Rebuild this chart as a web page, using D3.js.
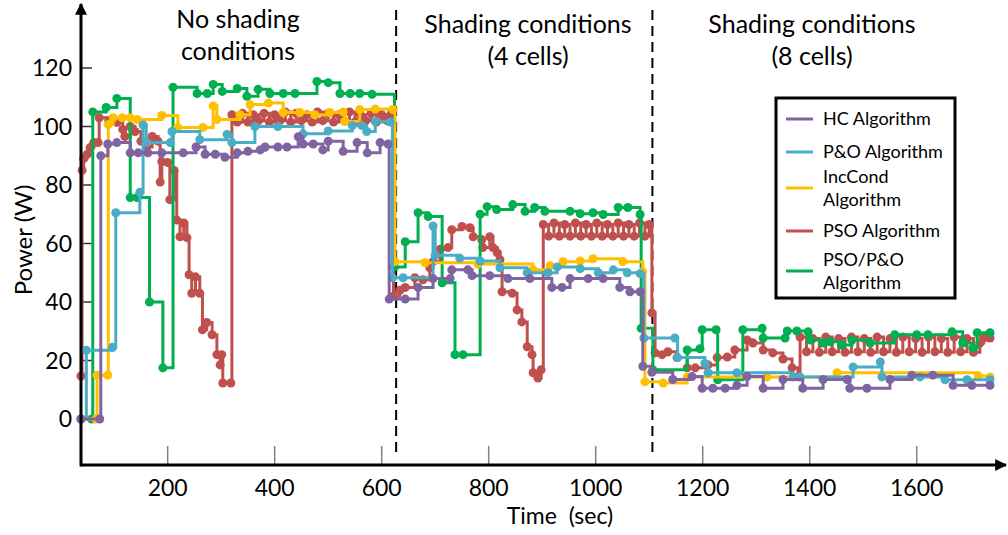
<!DOCTYPE html>
<html>
<head>
<meta charset="utf-8">
<script src="https://cdn.jsdelivr.net/npm/d3@7"></script>
<style>
  body { margin: 0; background: #fff; }
  text { font-family: Lato, "Open Sans", sans-serif; fill: #000; }
</style>
</head>
<body>
<div id="chart"></div>
<script>
// series data: [time (sec), power (W)]
var hcData = [[38,0],[73,0],[75,90],[88,94],[105,94.5],[130,91],[145,91],[163,91],[189,91],[229,91],[253,93],[270,90.5],[289,90.5],[307,89.5],[330,91],[350,91.5],[373,92],[382,93],[406,93],[423,93],[444,96.5],[453,94],[472,94],[490,92],[500,95],[528,91.5],[554,94.5],[573,91],[597,94.5],[612,94],
  [614,41],[644,41],[668,45],[696,48],[728,48],[731,51],[761,51],[769,49],[802,49],[836,48],[877,48],[918,45],[937,45],[952,48],[986,48],[1014,48],[1045,45],[1064,43.5],[1083,43.5],
  [1088,18],[1105,16],[1144,13.5],[1180,14.5],[1199,10.5],[1219,10.5],[1242,10.5],[1264,11.5],[1283,14.5],[1313,10.5],[1350,13.5],[1387,10.5],[1425,13.5],[1470,13.5],[1475,10.5],[1507,10.5],[1550,13.5],[1591,15],[1630,15],[1668,11.5],[1703,11.5],[1737,11.5]];

var poData = [[38,0],[48,23.5],[97,24.5],[103,70.5],[148,77.5],[154,100.5],[160,94.5],[205,94.5],[208,98.3],[260,95.5],[311,97.3],[320,94.5],[363,100],[406,100],[453,97.5],[500,98.5],[545,100.3],[563,100.3],[572,98.3],[588,101.7],[616,101.5],
  [620,48.3],[640,48.3],[696,66],[700,56],[746,55],[784,54],[821,51.7],[872,50],[911,50],[928,52],[971,51.4],[1005,50],[1033,51],[1059,50],[1083,49.7],
  [1090,27.7],[1148,27.7],[1153,21],[1204,19],[1210,15.8],[1264,15.8],[1369,14.4],[1382,14.4],[1481,17.8],[1532,19.5],[1535,14.4],[1606,14.4],[1653,13.4],[1694,13.4],[1737,13.4]];

var incData = [[38,0],[66,0],[68,15],[88,15],[89,100.7],[98,103],[115,103],[130,103],[143,102.4],[189,103.8],[219,99.7],[266,99.7],[285,107],[292,102.4],[335,104],[354,107.5],[388,108],[416,104.8],[447,104.8],[475,104],[503,104.8],[528,105],[531,101.7],[559,105.8],[588,106],[621,105.8],
  [625,53.8],[681,53.4],[780,53],[883,51],[915,52.4],[939,53.8],[971,54],[995,54.8],[1051,53.8],[1088,50.3],
  [1092,12.7],[1126,12.3],[1171,14.4],[1320,14.4],[1451,15.8],[1715,14.7],[1737,14.4]];

var psoData = [[38,14.7],[40,85],[43,89],[49,90.4],[55,92.8],[62,94.5],[70,94.5],[72,103],[90,102],[105,101.4],[116,99],[120,96.6],[130,100],[139,98.3],[150,95],[161,93],[171,96.6],[182,95],[186,81],[189,88],[200,87.7],[204,75],[212,85],[217,68],[223,62.3],[230,67],[236,62],[240,49.3],[245,43],[252,48.6],[260,43],[265,30.5],[273,33],[283,28.8],[292,22],[298,18.5],[301,22],[303,12.3],[318,12.3],
  [320,104],[330,101.5],[340,104.5],[350,101.5],[360,104],[370,102],[380,104.5],[390,101.5],[400,104],[410,102],[420,105],[430,101.5],[440,104.5],[450,102],[460,104],[470,101.5],[480,105],[490,102],[500,104.5],[510,101.5],[520,104],[530,102],[540,105],[550,101.5],[560,104],[570,102],[580,104.5],[590,101.5],[600,104],[610,102],[618,104.5],
  [622,42],[634,44],[644,45],[662,48.3],[677,47.6],[690,51.7],[696,53.8],[709,58],[724,58.6],[731,64.7],[750,65.8],[765,65.4],[771,62.3],[787,61.3],[789,58.6],[802,62.3],[808,58.6],[816,56.8],[821,54.5],[825,43.5],[844,43],[853,37.3],[862,33.2],[872,24.7],[881,22],[883,15.8],[892,14],[898,16.8],
  [902,66.5],[912,62.5],[922,67],[932,62.5],[942,66.5],[952,62.5],[962,67],[972,62.5],[982,66.5],[992,62.5],[1002,67],[1012,62.5],[1022,66.5],[1032,62.5],[1042,67],[1052,62.5],[1062,66.5],[1072,62.5],[1082,67],[1092,62.5],[1100,66.5],
  [1105,36.3],[1111,22.6],[1124,22],[1135,23],[1152,21],[1171,17.5],[1186,17.5],[1210,18.5],[1227,21],[1246,21.2],[1260,23.6],[1283,27],[1294,26],[1313,23.6],[1331,22.6],[1350,20.5],[1367,17.5],[1378,14.4],
  [1382,28],[1394,23],[1406,27.5],[1418,22.8],[1430,28],[1442,23],[1454,27.5],[1466,22.8],[1478,28],[1490,23],[1502,27.5],[1514,22.8],[1526,28],[1538,23],[1550,27.5],[1562,22.8],[1574,28],[1586,23],[1598,27.5],[1610,22.8],[1622,28],[1634,23],[1646,27.5],[1658,22.8],[1670,28],[1682,23],[1694,27.5],[1706,22.8],[1718,26],[1725,27.7],[1737,27.7]];

var hybridData = [[38,0],[58,0],[60,105],[85,106.5],[105,109.6],[130,75.7],[143,75.7],[166,40],[191,17.5],[210,113.4],[255,111.3],[274,111.3],[285,114.4],[302,112],[330,113],[348,110.3],[369,112.7],[391,111.3],[416,111.3],[438,111.3],[479,115.4],[500,115],[522,111.3],[541,111.3],[559,111.3],[582,111],
  [624,52],[644,60.6],[668,70.5],[687,69.2],[713,46.6],[737,22],[752,22],[784,70],[797,72.6],[815,71.6],[845,73.3],[868,71],[886,72.3],[905,71],[952,71],[971,70.2],[995,70.5],[1014,69.9],[1042,72.3],[1060,72.3],[1083,69.9],
  [1085,31],[1107,16.8],[1171,23.6],[1195,24],[1199,30.5],[1225,30.5],[1228,13.4],[1275,30.5],[1311,31],[1313,27.7],[1354,27.7],[1358,30.1],[1376,30.1],[1397,29.8],[1401,27],[1425,26],[1438,26.4],[1460,25.3],[1479,27],[1513,26],[1559,28.8],[1600,28.8],[1621,28.8],[1666,29.8],[1686,26],[1705,24.3],[1713,29.5],[1737,29.5]];

var seriesNames = ["HC Algorithm", "P&O Algorithm", "IncCond Algorithm", "PSO Algorithm", "PSO/P&O Algorithm"];
var seriesColors = ["#8064A2", "#4BACC6", "#FFC000", "#C0504D", "#00B050"];
var xTicks = [200, 400, 600, 800, 1000, 1200, 1400, 1600];
var yTicks = [0, 20, 40, 60, 80, 100, 120];
var boundaries = [627, 1106];
var regionLabels = [["No shading", "conditions"], ["Shading conditions", "(4 cells)"], ["Shading conditions", "(8 cells)"]];
var regionCenters = [238, 528, 812];

var W = 1008, H = 535;
var svg = d3.select("#chart").append("svg").attr("width", W).attr("height", H);

var x = d3.scaleLinear().domain([38, 1765]).range([81, 1005]);
var y = d3.scaleLinear().domain([0, 120]).range([419, 68]);
var axisY = 465;

var allData = [hcData, poData, incData, psoData, hybridData];
var series = seriesNames.map(function(n, i) { return { name: n, color: seriesColors[i], values: allData[i] }; });

// tick marks (grey on x, dark on y)
svg.append("g").selectAll("line").data(xTicks).enter().append("line")
  .attr("x1", function(d) { return x(d); }).attr("x2", function(d) { return x(d); })
  .attr("y1", axisY - 19).attr("y2", axisY)
  .attr("stroke", "#808080").attr("stroke-width", 1.5);
svg.append("g").selectAll("line").data(yTicks).enter().append("line")
  .attr("x1", 81).attr("x2", 92)
  .attr("y1", function(d) { return y(d); }).attr("y2", function(d) { return y(d); })
  .attr("stroke", "#333").attr("stroke-width", 1.5);

// tick labels
svg.append("g").selectAll("text").data(xTicks).enter().append("text")
  .attr("x", function(d) { return x(d); }).attr("y", 496)
  .attr("text-anchor", "middle").style("font-size", "23px")
  .text(function(d) { return d; });
svg.append("g").selectAll("text").data(yTicks).enter().append("text")
  .attr("x", 72).attr("y", function(d) { return y(d) + 8; })
  .attr("text-anchor", "end").style("font-size", "23px")
  .text(function(d) { return d; });

// region boundaries
svg.append("g").selectAll("line").data(boundaries).enter().append("line")
  .attr("x1", function(d) { return x(d); }).attr("x2", function(d) { return x(d); })
  .attr("y1", 10).attr("y2", 458)
  .attr("stroke", "#000").attr("stroke-width", 2).attr("stroke-dasharray", "10,6");

// lines
var line = d3.line().curve(d3.curveStepAfter)
  .x(function(d) { return x(d[0]); })
  .y(function(d) { return y(d[1]); });

var drawOrder = [3, 4, 2, 1, 0];
drawOrder.forEach(function(i) {
  var s = series[i];
  var g = svg.append("g");
  g.append("path").attr("d", line(s.values))
    .attr("fill", "none").attr("stroke", s.color).attr("stroke-width", 3);
  g.selectAll("circle").data(s.values).enter().append("circle")
    .attr("cx", function(d) { return x(d[0]); })
    .attr("cy", function(d) { return y(d[1]); })
    .attr("r", 4.5).attr("fill", s.color);
});

// axes with arrows
svg.append("defs").append("marker").attr("id", "arrow")
  .attr("viewBox", "0 0 10 10").attr("refX", 9).attr("refY", 5)
  .attr("markerWidth", 4).attr("markerHeight", 4).attr("orient", "auto")
  .append("path").attr("d", "M0,0 L10,5 L0,10 z").attr("fill", "#000");
svg.append("line").attr("x1", 81).attr("y1", axisY).attr("x2", 1006).attr("y2", axisY)
  .attr("stroke", "#000").attr("stroke-width", 3).attr("marker-end", "url(#arrow)");
svg.append("line").attr("x1", 81).attr("y1", axisY + 1.5).attr("x2", 81).attr("y2", 4)
  .attr("stroke", "#000").attr("stroke-width", 3).attr("marker-end", "url(#arrow)");

// axis titles
svg.append("text").attr("x", 560).attr("y", 524).attr("text-anchor", "middle")
  .style("font-size", "23px").style("white-space", "pre").text("Time  (sec)");
svg.append("text").attr("transform", "translate(32,240) rotate(-90)").attr("text-anchor", "middle")
  .style("font-size", "24px").text("Power (W)");

// region labels
regionLabels.forEach(function(lbl, i) {
  lbl.forEach(function(t, j) {
    svg.append("text").attr("x", regionCenters[i]).attr("y", (i === 0 ? 28 : 33) + j * 32)
      .attr("text-anchor", "middle").style("font-size", "25px").text(t);
  });
});

// legend
var lg = svg.append("g");
lg.append("rect").attr("x", 776).attr("y", 98).attr("width", 179).attr("height", 200)
  .attr("fill", "#fff").attr("stroke", "#000").attr("stroke-width", 3);
var legendRows = [
  { lines: ["HC Algorithm"], y: 119 },
  { lines: ["P&O Algorithm"], y: 152 },
  { lines: ["IncCond", "Algorithm"], y: 188 },
  { lines: ["PSO Algorithm"], y: 231 },
  { lines: ["PSO/P&O", "Algorithm"], y: 271 }
];
legendRows.forEach(function(r, i) {
  lg.append("line").attr("x1", 786).attr("x2", 813).attr("y1", r.y).attr("y2", r.y)
    .attr("stroke", seriesColors[i]).attr("stroke-width", 3);
  var y0 = r.lines.length === 1 ? r.y + 6 : r.y - 5;
  r.lines.forEach(function(t, j) {
    lg.append("text").attr("x", 823).attr("y", y0 + j * 23).style("font-size", "18px").text(t);
  });
});
</script>
</body>
</html>
